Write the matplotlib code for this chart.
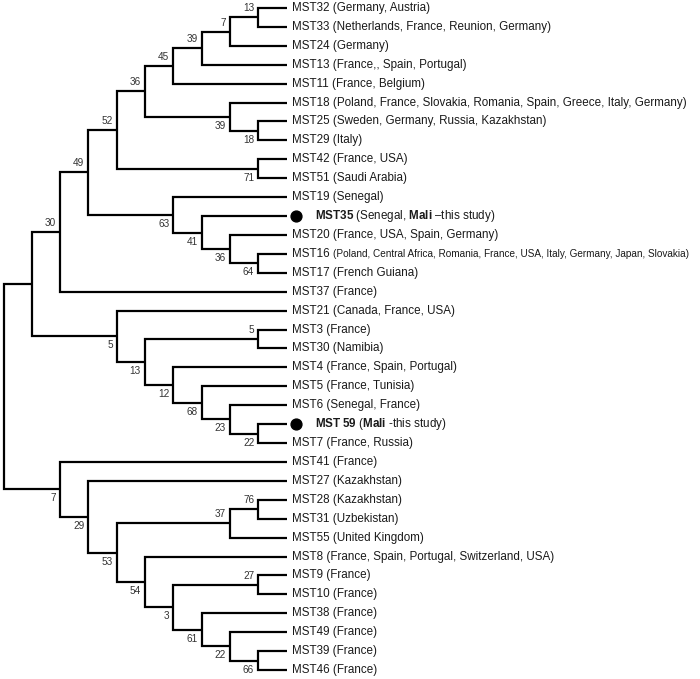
import matplotlib
matplotlib.use("Agg")
import matplotlib.pyplot as plt

plt.rcParams["font.family"] = "Liberation Sans"
plt.rcParams["mathtext.fontset"] = "custom"
plt.rcParams["mathtext.rm"] = "Liberation Sans"
plt.rcParams["mathtext.bf"] = "Liberation Sans:bold"
plt.rcParams["mathtext.it"] = "Liberation Sans:italic"

# Leaves, top to bottom
leaf_ids = [
    "MST32", "MST33", "MST24", "MST13", "MST11", "MST18", "MST25", "MST29",
    "MST42", "MST51", "MST19", "MST35", "MST20", "MST16", "MST17", "MST37",
    "MST21", "MST3", "MST30", "MST4", "MST5", "MST6", "MST59", "MST7",
    "MST41", "MST27", "MST28", "MST31", "MST55", "MST8", "MST9", "MST10",
    "MST38", "MST49", "MST39", "MST46",
]
leaf_labels = [
    "MST32 (Germany, Austria)",
    "MST33 (Netherlands, France, Reunion, Germany)",
    "MST24 (Germany)",
    "MST13 (France,, Spain, Portugal)",
    "MST11 (France, Belgium)",
    "MST18 (Poland, France, Slovakia, Romania, Spain, Greece, Italy, Germany)",
    "MST25 (Sweden, Germany, Russia, Kazakhstan)",
    "MST29 (Italy)",
    "MST42 (France, USA)",
    "MST51 (Saudi Arabia)",
    "MST19 (Senegal)",
    r"$\mathbf{MST35}$ (Senegal, $\mathbf{Mali}$ –this study)",
    "MST20 (France, USA, Spain, Germany)",
    "MST16",
    "MST17 (French Guiana)",
    "MST37 (France)",
    "MST21 (Canada, France, USA)",
    "MST3 (France)",
    "MST30 (Namibia)",
    "MST4 (France, Spain, Portugal)",
    "MST5 (France, Tunisia)",
    "MST6 (Senegal, France)",
    r"$\mathbf{MST\ 59}$ ($\mathbf{Mali}$ -this study)",
    "MST7 (France, Russia)",
    "MST41 (France)",
    "MST27 (Kazakhstan)",
    "MST28 (Kazakhstan)",
    "MST31 (Uzbekistan)",
    "MST55 (United Kingdom)",
    "MST8 (France, Spain, Portugal, Switzerland, USA)",
    "MST9 (France)",
    "MST10 (France)",
    "MST38 (France)",
    "MST49 (France)",
    "MST39 (France)",
    "MST46 (France)",
]
mst16_places = "(Poland, Central Africa, Romania, France, USA, Italy, Germany, Japan, Slovakia)"
study_leaves = ["MST35", "MST59"]

# Internal nodes: (name, upper child, lower child, bootstrap)
nodes = [
    ("a", "MST32", "MST33", 13),
    ("b", "a", "MST24", 7),
    ("c", "b", "MST13", 39),
    ("d", "c", "MST11", 45),
    ("e", "MST25", "MST29", 18),
    ("f", "MST18", "e", 39),
    ("g", "d", "f", 36),
    ("h", "MST42", "MST51", 71),
    ("i", "g", "h", 52),
    ("j", "MST16", "MST17", 64),
    ("k", "MST20", "j", 36),
    ("l", "MST35", "k", 41),
    ("m", "MST19", "l", 63),
    ("n", "i", "m", 49),
    ("o", "n", "MST37", 30),
    ("p", "MST3", "MST30", 5),
    ("q", "MST59", "MST7", 22),
    ("r", "MST6", "q", 23),
    ("s", "MST5", "r", 68),
    ("t", "MST4", "s", 12),
    ("u", "p", "t", 13),
    ("v", "MST21", "u", 5),
    ("w", "o", "v", None),
    ("x", "MST28", "MST31", 76),
    ("y", "x", "MST55", 37),
    ("z", "MST39", "MST46", 66),
    ("aa", "MST49", "z", 22),
    ("ab", "MST38", "aa", 61),
    ("ac", "MST9", "MST10", 27),
    ("ad", "ac", "ab", 3),
    ("ae", "MST8", "ad", 54),
    ("af", "y", "ae", 53),
    ("ag", "MST27", "af", 29),
    ("ah", "MST41", "ag", 7),
    ("root", "w", "ah", None),
]


def layout():
    leaf_level = 10
    pos = {lid: (leaf_level, i) for i, lid in enumerate(leaf_ids)}
    upper = {}
    for name, up, lo, sup in nodes:
        x = min(pos[up][0], pos[lo][0]) - 1
        y = (pos[up][1] + pos[lo][1]) / 2
        pos[name] = (x, y)
        upper[up] = True
        upper[lo] = False
    return pos, upper


def main():
    pos, upper = layout()

    fig = plt.figure(figsize=(7, 6.79), dpi=100)
    ax = fig.add_axes([0, 0, 1, 1])
    ax.set_xlim(-0.124, 24.61)
    ax.set_ylim(35.476, -0.423)
    ax.axis("off")

    # branches
    for name, up, lo, sup in nodes:
        x, y = pos[name]
        xu, yu = pos[up]
        xl, yl = pos[lo]
        ax.plot([xu, x, x, xl], [yu, yu, yl, yl], color="black", lw=1.6,
                solid_joinstyle="miter", solid_capstyle="butt")
        if sup is not None:
            dy = 9 if upper[name] else -9
            ax.annotate(str(sup), xy=(x, y), xytext=(-4, dy),
                        textcoords="offset pixels", ha="right", va="center",
                        fontsize=7.2, color="#333333")

    # leaf labels
    for lid, label in zip(leaf_ids, leaf_labels):
        x, y = pos[lid]
        dx = 5
        if lid in study_leaves:
            ax.plot(x + 0.33, y, "o", ms=7.8, color="black")
            dx = 28
        t = ax.annotate(label, xy=(x, y), xytext=(dx, 0),
                        textcoords="offset pixels", ha="left", va="center",
                        fontsize=8.4, color="#1a1a1a")
        if lid == "MST16":
            fig.canvas.draw()
            w = t.get_window_extent().width
            ax.annotate(mst16_places, xy=(x, y), xytext=(dx + w + 4, 0),
                        textcoords="offset pixels", ha="left", va="center",
                        fontsize=7.2, color="#1a1a1a")

    fig.savefig("out.png", dpi=100, facecolor="white")


if __name__ == "__main__":
    main()
